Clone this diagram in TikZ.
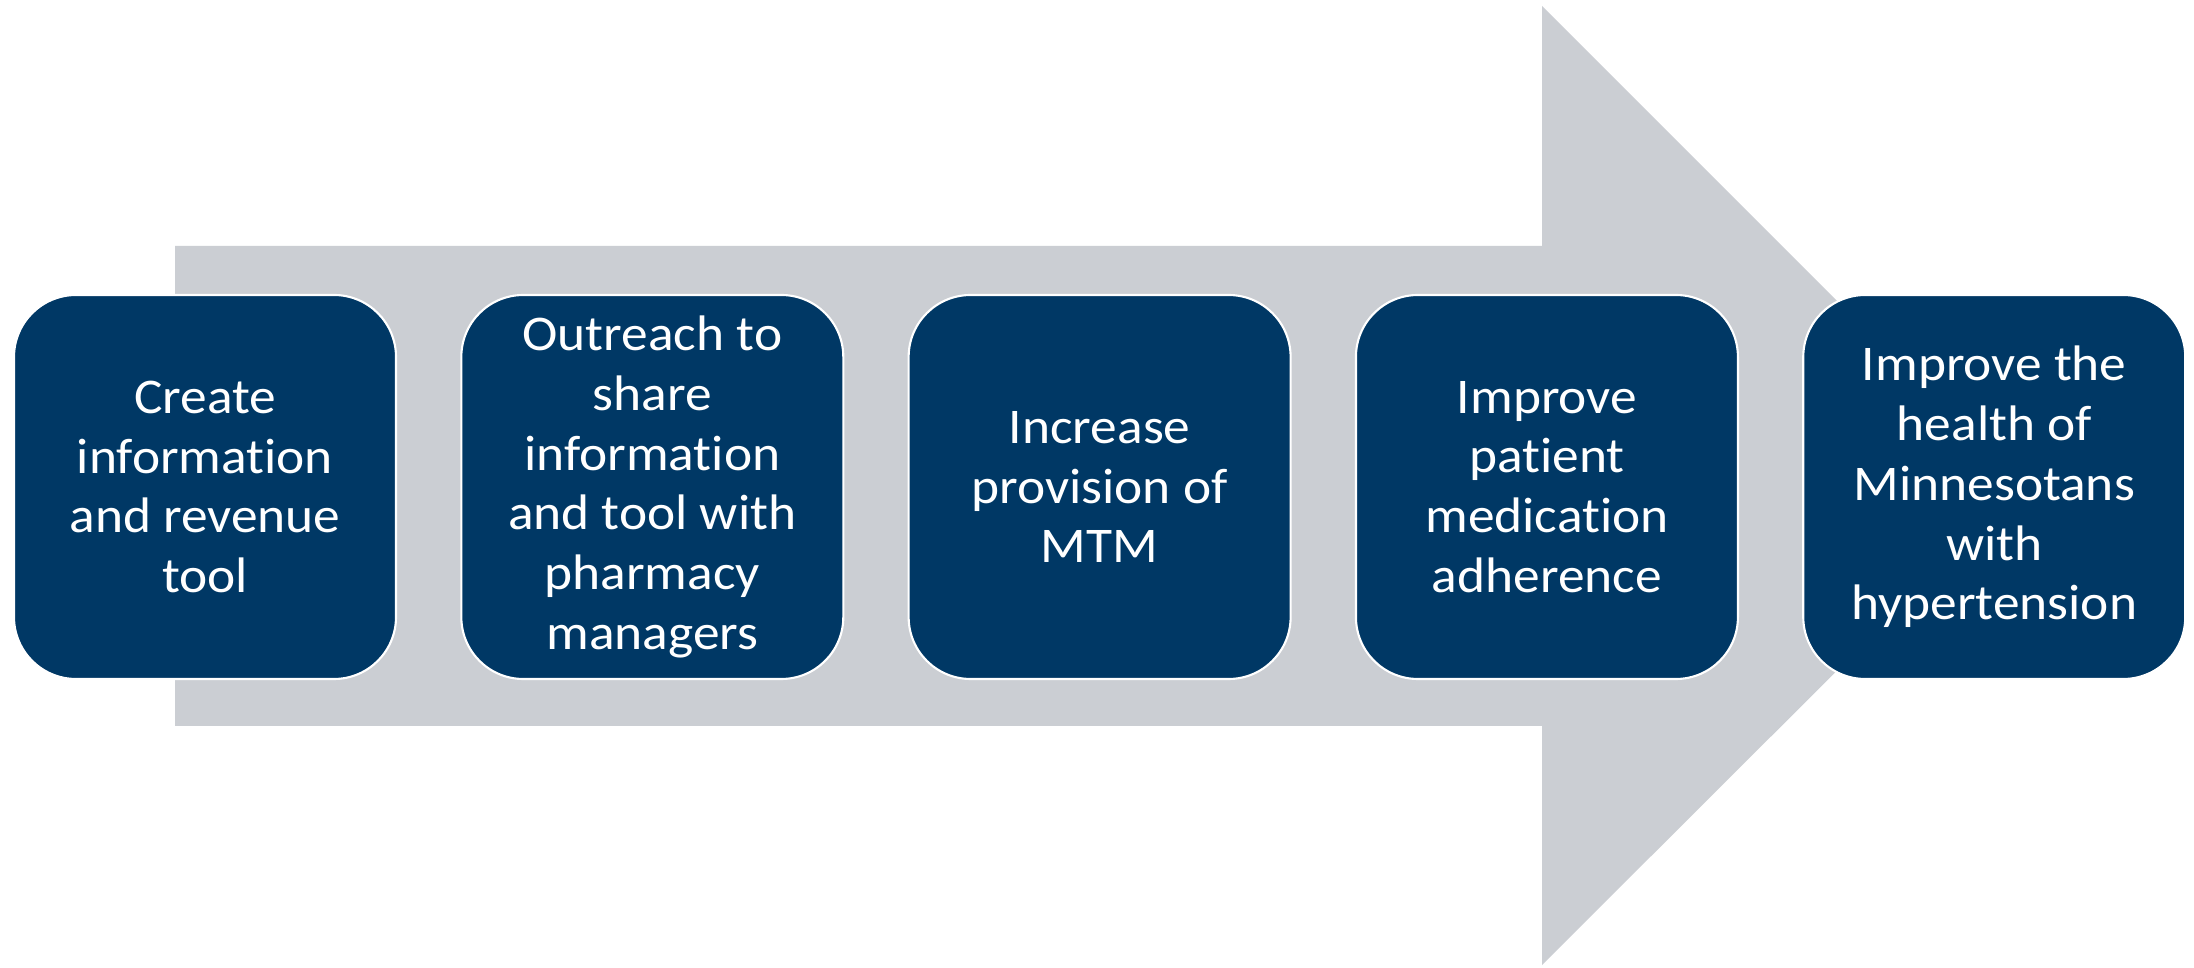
\documentclass[tikz,border=0pt]{standalone}
\usepackage{fontspec}
\setmainfont{Carlito}[FakeStretch=1.07, Ligatures=NoCommon]
\usepackage{tikz}
\usetikzlibrary{positioning}

\definecolor{navy}{RGB}{0,56,101}
\definecolor{arrowgray}{RGB}{203,206,211}

\tikzset{
  stage/.style={rectangle, rounded corners=0.62cm, fill=navy, draw=white, line width=0.6pt,
    text=white, minimum width=3.82cm, minimum height=3.84cm, align=center,
    font=\fontsize{14.2}{17}\selectfont, inner sep=2pt}
}

\begin{document}
\begin{tikzpicture}[node distance=0.632cm]
	\useasboundingbox (0,0) rectangle (21.94,9.67);

	% big background arrow
	\fill[arrowgray] (1.75,2.41) -- (15.42,2.41) -- (15.42,0.02) -- (20.22,4.81)
		-- (15.42,9.61) -- (15.42,7.21) -- (1.75,7.21) -- cycle;

	\node[stage] (create) at (2.05,4.80) {Create\\information\\and revenue\\tool};
	\node[stage, right=of create] (outreach) {Outreach to\\share\\information\\and tool with\\pharmacy\\managers};
	\node[stage, right=of outreach] (mtm) {Increase\\provision of\\MTM};
	\node[stage, right=of mtm] (adherence) {Improve\\patient\\medication\\adherence};
	\node[stage, right=of adherence] (health) {Improve the\\health of\\Minnesotans\\with\\hypertension};

\end{tikzpicture}
\end{document}
